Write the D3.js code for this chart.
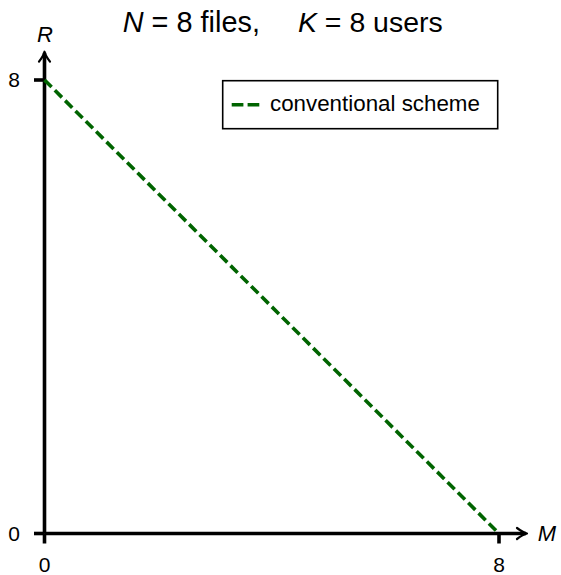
<!DOCTYPE html>
<html>
<head>
<meta charset="utf-8">
<script src="https://cdn.jsdelivr.net/npm/d3@7"></script>
<style>
  html, body { margin: 0; padding: 0; background: #fff; }
  svg text { font-family: "Liberation Sans", Arial, sans-serif; fill: #000; white-space: pre; }
</style>
</head>
<body>
<svg id="chart" width="561" height="575"></svg>
<script>
// ---- data ----
const seriesName = "conventional scheme";
const memory = [0, 8];     // M values
const rate = [8, 0];       // R values
const xTicks = [0, 8];
const yTicks = [0, 8];
const titleParts = [["N", " = 8 files,"], ["K", " = 8 users"]];
const xLabel = "M";
const yLabel = "R";

const svg = d3.select("#chart");
const x = d3.scaleLinear().domain([0, 8]).range([44.5, 499]);
const y = d3.scaleLinear().domain([0, 8]).range([533.5, 80]);
const green = "#006400";

// fit helper
function fit(sel, target) {
  const w = sel.node().getComputedTextLength();
  const fs = parseFloat(sel.attr("font-size"));
  sel.attr("font-size", fs * target / w);
}

// axes lines
const ax = svg.append("g").attr("stroke", "#000").attr("stroke-width", 3.6).attr("fill", "none");
const xTip = 527, yTip = 51.7;
ax.append("line").attr("x1", x(0)).attr("x2", xTip - 1).attr("y1", y(0)).attr("y2", y(0));
ax.append("line").attr("x1", x(0)).attr("x2", x(0)).attr("y1", y(0)).attr("y2", yTip + 1);
// arrowheads
const ah = svg.append("g").attr("stroke", "#000").attr("stroke-width", 2.2).attr("fill", "none")
  .attr("stroke-linecap", "round").attr("stroke-linejoin", "round");
ah.append("path").attr("d", `M${xTip-10},${y(0)-5.5} Q${xTip-4},${y(0)-1} ${xTip},${y(0)} Q${xTip-4},${y(0)+1} ${xTip-10},${y(0)+5.5}`);
ah.append("path").attr("d", `M${x(0)-5.5},${yTip+10} Q${x(0)-1},${yTip+4} ${x(0)},${yTip} Q${x(0)+1},${yTip+4} ${x(0)+5.5},${yTip+10}`);

// ticks
const tk = svg.append("g").attr("stroke", "#000").attr("stroke-width", 3.6);
tk.selectAll(".xt").data(xTicks).join("line")
  .attr("x1", d => x(d)).attr("x2", d => x(d)).attr("y1", y(0)).attr("y2", y(0) + 10);
tk.selectAll(".yt").data(yTicks).join("line")
  .attr("y1", d => y(d)).attr("y2", d => y(d)).attr("x1", x(0)).attr("x2", x(0) - 10.5);

// tick labels
svg.selectAll(".xl").data(xTicks).join("text")
  .attr("x", d => x(d)).attr("y", y(0) + 38.5).attr("text-anchor", "middle")
  .attr("font-size", 21).text(d => d);
svg.selectAll(".yl").data(yTicks).join("text")
  .attr("x", 14).attr("y", d => y(d) + 1.5).attr("text-anchor", "middle")
  .attr("dominant-baseline", "middle").attr("font-size", 21).text(d => d);

// axis labels
svg.append("text").attr("x", 547).attr("y", y(0) + 1.5).attr("text-anchor", "middle")
  .attr("dominant-baseline", "middle").attr("font-size", 22).attr("font-style", "italic").text(xLabel);
svg.append("text").attr("x", 45).attr("y", 36).attr("text-anchor", "middle")
  .attr("dominant-baseline", "middle").attr("font-size", 22).attr("font-style", "italic").text(yLabel);

// title
const starts = [122.7, 298], widths = [137.3, 144.7];
titleParts.forEach((p, i) => {
  const t = svg.append("text").attr("x", starts[i]).attr("y", 31.5).attr("font-size", 24);
  t.append("tspan").attr("font-style", "italic").text(p[0]);
  t.append("tspan").text(p[1]);
  fit(t, widths[i]);
});

// line
const line = d3.line().x(d => x(d[0])).y(d => y(d[1]));
svg.append("path").datum(d3.zip(memory, rate)).attr("d", line)
  .attr("fill", "none").attr("stroke", green).attr("stroke-width", 3.6)
  .attr("stroke-dasharray", "10,4.6");

// legend
const lg = svg.append("g");
lg.append("rect").attr("x", 222.7).attr("y", 80.7).attr("width", 275).attr("height", 48)
  .attr("fill", "#fff").attr("stroke", "#000").attr("stroke-width", 1.6);
lg.append("line").attr("x1", 231.7).attr("x2", 259.3).attr("y1", 104.7).attr("y2", 104.7)
  .attr("stroke", green).attr("stroke-width", 3.6).attr("stroke-dasharray", "11.7,4.2");
const lt = lg.append("text").attr("x", 270).attr("y", 105).attr("dominant-baseline", "middle")
  .attr("font-size", 19).text(seriesName);
fit(lt, 210);
</script>
</body>
</html>
